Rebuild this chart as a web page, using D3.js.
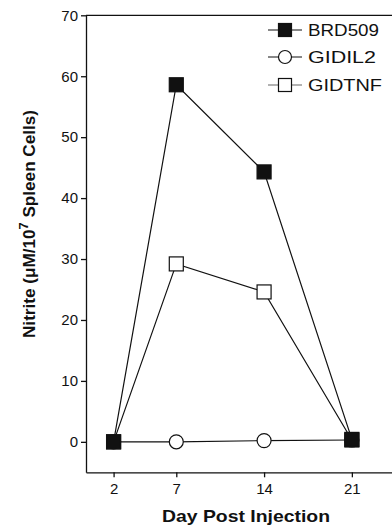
<!DOCTYPE html>
<html>
<head>
<meta charset="utf-8">
<script src="https://cdn.jsdelivr.net/npm/d3@7"></script>
<style>
  body { margin: 0; background: #fff; }
  svg { display: block; font-family: "Liberation Sans", Arial, Helvetica, sans-serif; }
</style>
</head>
<body>
<div id="chart"></div>
<script>
// Data
const days = [2, 7, 14, 21];
const brd509 = [0, 58.6, 44.3, 0.4];
const gidil2 = [0, 0, 0.2, 0.3];
const gidtnf = [0, 29.2, 24.6, 0.3];
const yTicks = [0, 10, 20, 30, 40, 50, 60, 70];
const seriesNames = ["BRD509", "GIDIL2", "GIDTNF"];

const width = 392, height = 528;

const svg = d3.select("#chart").append("svg")
  .attr("width", width)
  .attr("height", height);

const x = d3.scaleLinear().domain([-0.2, 24.2]).range([86, 392]);
const y = d3.scaleLinear().domain([-5, 70]).range([472.3, 15.3]);

// frame: top line
svg.append("line")
  .attr("x1", x(-0.2)).attr("x2", x(24.2))
  .attr("y1", y(70)).attr("y2", y(70))
  .attr("stroke", "#111").attr("stroke-width", 1.3);

// Y axis
const yAxis = svg.append("g")
  .attr("transform", `translate(${x(-0.2)},0)`)
  .call(d3.axisLeft(y).tickValues(yTicks).tickSize(5).tickPadding(3).tickSizeOuter(0));
yAxis.selectAll("text").style("font-size", "15px").attr("fill", "#111");
yAxis.selectAll("line, path").attr("stroke", "#111").attr("stroke-width", 1.3);

// X axis
const xAxis = svg.append("g")
  .attr("transform", `translate(0,${y(-5)})`)
  .call(d3.axisBottom(x).tickValues(days).tickSize(5).tickPadding(6).tickSizeOuter(0));
xAxis.selectAll("text").style("font-size", "15px").attr("fill", "#111");
xAxis.selectAll("line, path").attr("stroke", "#111").attr("stroke-width", 1.3);

// axis titles
svg.append("text")
  .attr("x", 246).attr("y", 522)
  .attr("text-anchor", "middle")
  .attr("textLength", 168).attr("lengthAdjust", "spacingAndGlyphs")
  .style("font-size", "17px").style("font-weight", "bold")
  .attr("fill", "#111")
  .text("Day Post Injection");

const yl = svg.append("text")
  .attr("transform", "translate(35,224) rotate(-90)")
  .attr("text-anchor", "middle")
  .attr("textLength", 228).attr("lengthAdjust", "spacingAndGlyphs")
  .style("font-size", "16px").style("font-weight", "bold")
  .attr("fill", "#111");
yl.append("tspan").text("Nitrite (\u03bcM/10");
yl.append("tspan").attr("dy", -7).style("font-size", "12px").text("7");
yl.append("tspan").attr("dy", 7).text(" Spleen Cells)");

const line = d3.line().x((d, i) => x(days[i])).y(d => y(d));

function drawMarker(g, type, cx, cy, s) {
  if (type === "circle") {
    g.append("circle").attr("cx", cx).attr("cy", cy).attr("r", s / 2)
      .attr("fill", "#fff").attr("stroke", "#111").attr("stroke-width", 1.2);
  } else {
    g.append("rect").attr("x", cx - s / 2).attr("y", cy - s / 2)
      .attr("width", s).attr("height", s)
      .attr("fill", type === "filled" ? "#111" : "#fff")
      .attr("stroke", "#111").attr("stroke-width", 1.2);
  }
}

const series = [
  { values: gidtnf, type: "open" },
  { values: gidil2, type: "circle" },
  { values: brd509, type: "filled" }
];

series.forEach(s => {
  svg.append("path")
    .datum(s.values)
    .attr("d", line)
    .attr("fill", "none")
    .attr("stroke", "#111")
    .attr("stroke-width", 1.2);
  const g = svg.append("g");
  s.values.forEach((v, i) => drawMarker(g, s.type, x(days[i]), y(v), 14));
});

// Legend
const legendTypes = ["filled", "circle", "open"];
const legendY = [30, 57, 85];
seriesNames.forEach((name, i) => {
  const g = svg.append("g");
  g.append("line")
    .attr("x1", 268).attr("x2", 302)
    .attr("y1", legendY[i]).attr("y2", legendY[i])
    .attr("stroke", i === 2 ? "#666" : "#111").attr("stroke-width", 1.2);
  drawMarker(g, legendTypes[i], 285, legendY[i], 13);
  g.append("text")
    .attr("x", 308).attr("y", legendY[i] + 6)
    .attr("textLength", [71, 68, 74][i]).attr("lengthAdjust", "spacingAndGlyphs")
    .style("font-size", "16px")
    .attr("fill", "#111")
    .text(name);
});
</script>
</body>
</html>
